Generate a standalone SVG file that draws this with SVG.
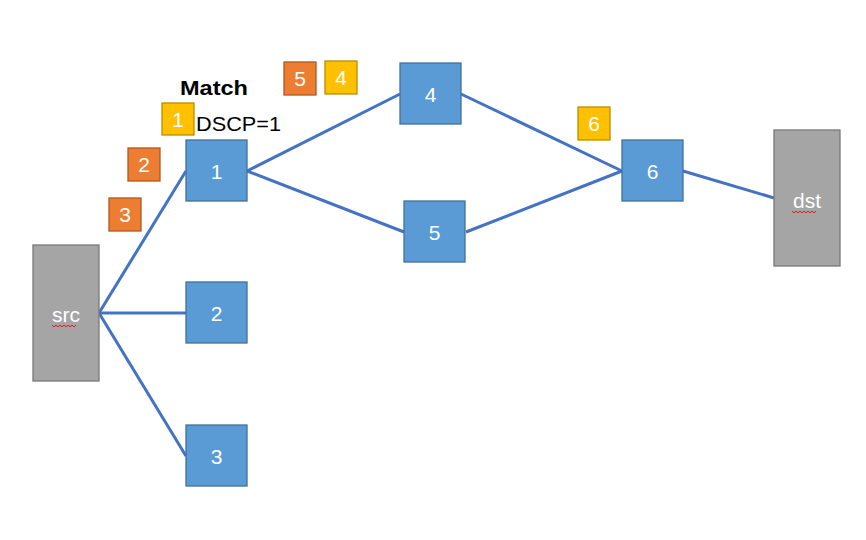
<svg xmlns="http://www.w3.org/2000/svg" width="866" height="540" viewBox="0 0 866 540">
<style>
.sw{fill:#5B9BD5;stroke:#41719C;stroke-width:1.3}
.gr{fill:#A5A5A5;stroke:#787878;stroke-width:1.3}
.or{fill:#ED7D31;stroke:#AE5A21;stroke-width:1.3}
.ye{fill:#FFC000;stroke:#BC8C00;stroke-width:1.3}
.lbl{font-family:"Liberation Sans","Noto Sans",sans-serif;font-size:21px;fill:#fff;text-anchor:middle}
.blk{font-family:"Liberation Sans","Noto Sans",sans-serif;font-size:21px;fill:#000}
.edge{stroke:#4472C4;stroke-width:3;fill:none}
.wavy{stroke:#E02020;stroke-width:1;fill:none}
</style>
<g id="connectors">
<line class="edge" x1="99" y1="313" x2="186" y2="171"/>
<line class="edge" x1="99" y1="313" x2="186" y2="313"/>
<line class="edge" x1="99" y1="313" x2="186" y2="456"/>
<line class="edge" x1="247" y1="171" x2="400" y2="94"/>
<line class="edge" x1="247" y1="171" x2="404" y2="232"/>
<line class="edge" x1="461" y1="94" x2="622" y2="171"/>
<line class="edge" x1="466" y1="232" x2="622" y2="171"/>
<line class="edge" x1="683" y1="171" x2="774" y2="198"/>
</g>
<g id="src">
<rect class="gr" x="33" y="245" width="66" height="136"/>
<text class="lbl" x="66" y="322">src</text>
<path class="wavy" d="M52 325 l2 2 l2 -2 l2 2 l2 -2 l2 2 l2 -2 l2 2 l2 -2 l2 2 l2 -2 l2 2 l2 -2"/>
</g>
<g id="dst">
<rect class="gr" x="774" y="130" width="66" height="136"/>
<text class="lbl" x="807" y="208">dst</text>
<path class="wavy" d="M792 211 l2 2 l2 -2 l2 2 l2 -2 l2 2 l2 -2 l2 2 l2 -2 l2 2 l2 -2 l2 2 l2 -2"/>
</g>
<g id="n1">
<rect class="sw" x="186" y="140" width="61" height="61"/>
<text class="lbl" x="216.5" y="179">1</text>
</g>
<g id="n2">
<rect class="sw" x="186" y="282" width="61" height="61"/>
<text class="lbl" x="216.5" y="321">2</text>
</g>
<g id="n3">
<rect class="sw" x="186" y="425" width="61" height="61"/>
<text class="lbl" x="216.5" y="464">3</text>
</g>
<g id="n4">
<rect class="sw" x="400" y="63" width="61" height="61"/>
<text class="lbl" x="430.5" y="102">4</text>
</g>
<g id="n5">
<rect class="sw" x="404" y="201" width="61" height="61"/>
<text class="lbl" x="434.5" y="240">5</text>
</g>
<g id="n6">
<rect class="sw" x="622" y="140" width="61" height="61"/>
<text class="lbl" x="652.5" y="179">6</text>
</g>
<g id="pkt2">
<rect class="or" x="128" y="148" width="32" height="33"/>
<text class="lbl" x="144" y="172">2</text>
</g>
<g id="pkt3">
<rect class="or" x="109" y="198" width="32" height="33"/>
<text class="lbl" x="125" y="222">3</text>
</g>
<g id="pkt1">
<rect class="ye" x="162" y="103" width="32" height="32"/>
<text class="lbl" x="178" y="127">1</text>
</g>
<g id="pkt5">
<rect class="or" x="284" y="62" width="32" height="33"/>
<text class="lbl" x="300" y="86">5</text>
</g>
<g id="pkt4">
<rect class="ye" x="325" y="61" width="32" height="33"/>
<text class="lbl" x="341" y="85">4</text>
</g>
<g id="pkt6">
<rect class="ye" x="578" y="107" width="32" height="33"/>
<text class="lbl" x="594" y="131">6</text>
</g>
<g id="match">
<text class="blk" x="180" y="95" font-weight="bold" font-size="23" textLength="68" lengthAdjust="spacingAndGlyphs">Match</text>
<text class="blk" x="196" y="131" font-size="22" textLength="85" lengthAdjust="spacingAndGlyphs">DSCP=1</text>
</g>
</svg>
